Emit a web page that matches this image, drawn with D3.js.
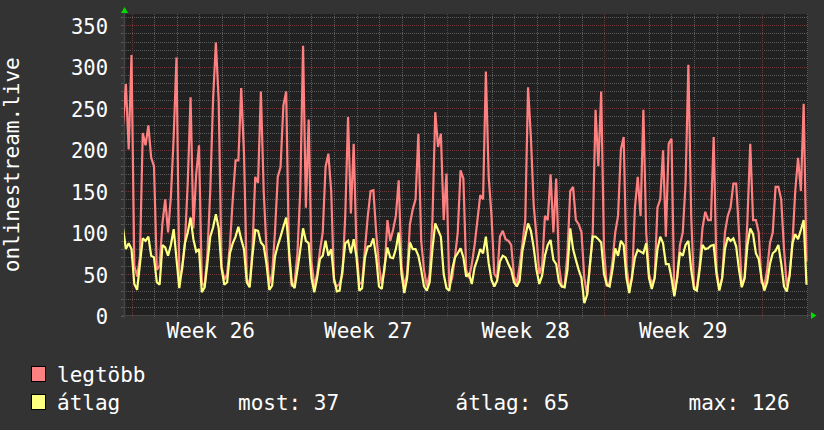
<!DOCTYPE html>
<html><head><meta charset="utf-8">
<script src="https://cdn.jsdelivr.net/npm/d3@7"></script>
<style>html,body{margin:0;padding:0;background:#333333;}svg{display:block}</style>
</head><body>
<svg id="chart" width="824" height="430"></svg>
<script>
// ---- data (3-hour samples, hours relative to Monday 00:00 of week 26) ----
const startHour = -9, stepHours = 3;
const viewStartHour = -8, viewEndHour = 721.6;
const maxValues = [230,279,200,314,60,47,70,220,205,229,190,180,55,60,111,140,100,143,215,311,
45,55,87,160,263,105,170,205,40,35,75,150,260,329,259,60,43,50,85,140,
187,187,274,195,45,35,80,167,160,270,150,80,38,50,100,167,179,253,270,70,
35,40,75,150,325,130,236,65,35,50,78,100,179,195,150,40,35,38,50,120,
239,123,207,80,38,40,80,119,150,151,100,60,38,55,115,90,103,120,163,60,
35,50,110,128,140,219,90,55,35,50,115,245,203,219,115,171,35,45,70,100,
175,165,55,45,62,85,115,145,140,294,167,120,50,45,95,102,92,90,85,47,
38,60,87,115,275,215,133,95,50,60,120,115,170,100,165,60,35,35,75,150,
155,115,110,100,45,25,60,100,248,180,270,80,35,40,65,100,120,200,215,60,
32,45,130,167,120,248,100,50,38,45,130,140,199,95,207,213,25,45,85,100,
159,302,120,35,32,60,105,125,115,115,215,55,32,45,100,120,130,159,159,100,
35,45,115,207,115,115,100,40,35,55,87,100,155,155,140,80,35,50,87,150,
190,150,255,65];
const avgValues = [105,80,87,80,38,31,62,93,90,95,72,70,40,37,85,82,72,85,104,68,
33,58,87,100,118,92,77,80,28,34,63,95,106,122,105,57,37,40,75,87,
95,107,92,80,40,34,72,103,102,88,84,62,31,36,71,84,95,107,118,79,
38,33,55,79,105,90,87,45,28,45,68,72,90,72,80,45,29,30,55,87,
90,75,92,70,30,33,70,83,84,93,70,35,32,60,82,70,69,80,100,50,
27,45,88,80,80,72,55,35,30,40,80,111,103,95,50,33,30,55,70,75,
81,70,47,50,38,58,68,80,75,95,63,43,35,42,65,72,70,62,55,40,
35,42,78,95,111,102,82,55,38,48,72,85,91,67,62,40,35,34,55,105,
80,67,55,45,15,25,62,95,95,92,88,50,37,35,55,81,72,90,85,45,
27,48,70,79,77,75,87,45,32,45,80,95,87,62,62,45,23,45,76,72,
85,90,55,32,30,55,85,80,81,84,85,50,30,45,80,94,90,93,83,55,
34,45,85,105,98,75,68,45,30,40,62,75,78,85,63,35,29,48,87,98,
92,103,115,37];
const yTickValues = [0,50,100,150,200,250,300,350];
const yMinorStep = 10, yTop = 363.3;
const weekStartHours = [0,168,336,504,672];
const weekLabels = ["Week 26","Week 27","Week 28","Week 29"];
const dayHours = [0,24,48,72,96,120,144,168,192,216,240,264,288,312,336,360,384,408,432,456,480,504,528,552,576,600,624,648,672,696,720];
const seriesNames = ["legtöbb","átlag"];
const seriesColors = ["#ff8080","#ffff80"];
const statLabels = ["most: 37","átlag: 65","max: 126"];

// ---- layout ----
const svg = d3.select("#chart");
const W = 824, H = 430;
const L = 124, R = 808, T = 14, B = 315.5;
const FONT = "'DejaVu Sans Mono', monospace";

svg.append("rect").attr("width",W).attr("height",H).attr("fill","#333333");
svg.append("rect").attr("x",L).attr("y",T).attr("width",R-L).attr("height",B-T).attr("fill","#212121");

const x = d3.scaleLinear().domain([viewStartHour, viewEndHour]).range([L, R]);
const y = d3.scaleLinear().domain([0, yTop]).range([B, T]);

const minorY = d3.range(yMinorStep, yTop, yMinorStep).filter(v => v % 50 !== 0);
const majorY = yTickValues.filter(v => v > 0);
const grid = svg.append("g");
const minorCol = "#5a5a5a", majorCol = "#6e3636";
grid.selectAll(".hm").data(minorY).enter().append("line")
  .attr("x1",L).attr("x2",R).attr("y1",d=>Math.round(y(d))+0.5).attr("y2",d=>Math.round(y(d))+0.5)
  .attr("stroke",minorCol).attr("stroke-dasharray","1,1");
const minorX = dayHours.filter(h => !weekStartHours.includes(h));
grid.selectAll(".vm").data(minorX).enter().append("line")
  .attr("x1",d=>Math.round(x(d))+0.5).attr("x2",d=>Math.round(x(d))+0.5).attr("y1",T).attr("y2",B+3)
  .attr("stroke",minorCol).attr("stroke-dasharray","1,1");
grid.selectAll(".hM").data(majorY).enter().append("line")
  .attr("x1",L).attr("x2",R).attr("y1",d=>Math.round(y(d))+0.5).attr("y2",d=>Math.round(y(d))+0.5)
  .attr("stroke",majorCol).attr("stroke-dasharray","1,1");
grid.selectAll(".vM").data(weekStartHours).enter().append("line")
  .attr("x1",d=>Math.round(x(d))+0.5).attr("x2",d=>Math.round(x(d))+0.5).attr("y1",T).attr("y2",B+3)
  .attr("stroke",majorCol).attr("stroke-dasharray","1,1");

grid.selectAll(".yt").data(d3.range(0, yTop, yMinorStep)).enter().append("line")
  .attr("x1",L-3).attr("x2",L).attr("y1",d=>Math.round(y(d))+0.5).attr("y2",d=>Math.round(y(d))+0.5)
  .attr("stroke",minorCol);

svg.append("line").attr("x1",L-2).attr("x2",R+3).attr("y1",B).attr("y2",B).attr("stroke","#444444").attr("stroke-width",1);
svg.append("line").attr("x1",L+0.5).attr("x2",L+0.5).attr("y1",T-2).attr("y2",B+2).attr("stroke","#444444").attr("stroke-width",1.5);

svg.append("clipPath").attr("id","clip").append("rect").attr("x",L).attr("y",T).attr("width",R-L).attr("height",B-T);
const toPts = arr => arr.map((v,i) => ({t: startHour + i*stepHours, v}));
const line = d3.line().x(d=>x(d.t)).y(d=>y(d.v));
[maxValues, avgValues].forEach((arr, i) => {
  svg.append("path").attr("clip-path","url(#clip)")
    .attr("d", line(toPts(arr))).attr("fill","none")
    .attr("stroke", seriesColors[i]).attr("stroke-width",2.2).attr("stroke-linejoin","miter").attr("stroke-miterlimit",2);
});

svg.append("path").attr("d",`M${L-3},${T-1}L${L+4},${T-1}L${L+0.5},${T-7}Z`).attr("fill","#00dd00");
svg.append("path").attr("d",`M${R+3},${B-3.5}L${R+3},${B+3.5}L${R+8.5},${B}Z`).attr("fill","#00dd00");

const yAxis = d3.axisLeft(y).tickValues(yTickValues).tickSize(0).tickPadding(0);
const ya = svg.append("g").attr("transform",`translate(108,0)`).call(yAxis);
ya.select(".domain").remove();
ya.selectAll("text").attr("fill","#ffffff").attr("font-family",FONT).attr("font-size",20.5)
  .attr("dy",null).attr("y",8).attr("x",0);

const weekMids = weekStartHours.slice(0,4).map(h => h + 84);
const xAxis = d3.axisBottom(x).tickValues(weekMids).tickSize(0).tickFormat((d,i)=>weekLabels[i]);
const xa = svg.append("g").attr("transform",`translate(0,${B})`).call(xAxis);
xa.select(".domain").remove();
xa.selectAll("text").attr("fill","#ffffff").attr("font-family",FONT).attr("font-size",21)
  .attr("dy",null).attr("y",22);

svg.append("text").attr("transform",`translate(19,${(T+B)/2}) rotate(-90)`)
  .attr("text-anchor","middle").attr("fill","#ffffff").attr("font-family",FONT).attr("font-size",21)
  .text("onlinestream.live");

const lg = svg.append("g");
seriesNames.forEach((name, i) => {
  const yy = 366.5 + i*28;
  lg.append("rect").attr("x",31.5).attr("y",yy).attr("width",14).attr("height",15)
    .attr("fill",seriesColors[i]).attr("stroke","#000000").attr("stroke-width",1);
  lg.append("text").attr("x",57).attr("y",yy+15).attr("fill","#ffffff")
    .attr("font-family",FONT).attr("font-size",21).text(name);
});
const statX = [238, 455.5, 688.5];
statLabels.forEach((s, i) => {
  lg.append("text").attr("x",statX[i]).attr("y",409.5).attr("fill","#ffffff")
    .attr("font-family",FONT).attr("font-size",21).text(s);
});
</script>
</body></html>
